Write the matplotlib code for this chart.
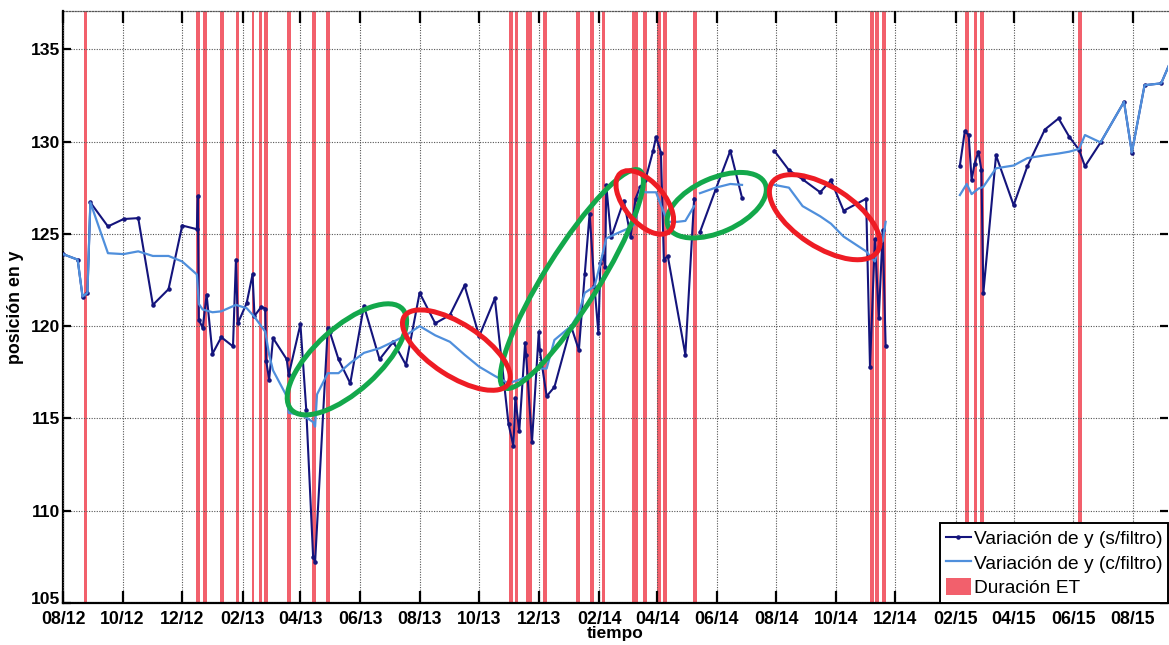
import numpy as np
import matplotlib
matplotlib.use("Agg")
import matplotlib.pyplot as plt
import matplotlib.dates as mdates
import matplotlib.transforms as mtransforms
from matplotlib.patches import Ellipse

plt.rcParams["font.family"] = ["Liberation Sans", "DejaVu Sans"]
plt.rcParams["font.weight"] = "bold"
plt.rcParams["axes.labelweight"] = "bold"

inicio = np.datetime64("2012-08-01")
fin = np.datetime64("2015-09-06")

# variación de y sin filtro (días desde el inicio, posición); nan = sin datos
dias_s = [0, 15, 20, 25, 28, 46, 62, 77, 92, 108, 122, 137, 138, 139, 143, 147,
          153, 162, 174, 177, 179, 188, 194, 196, 203, 207, 208, 211, 215, 229,
          231, 243, 249, 256, 258, 271, 273, 282, 294, 308, 324, 338, 351, 365,
          381, 396, 411, 426, 442, 456, 461, 463, 467, 473, 474, 480, 487, 488,
          495, 503, 520, 528, 534, 539, 544, 548, 550, 553, 555, 556, 561, 574,
          581, 586, 591, 596, 604, 607, 612, 615, 619, 637, 646, 649, 652, 668,
          683, 695, 710, 728, 743, 757, 775, 786, 799, 822, 826, 831, 835, 839,
          842, 880, 918, 923, 927, 930, 933, 937, 940, 942, 955, 973, 987, 1005,
          1019, 1030, 1040, 1046, 1062, 1086, 1094, 1107, 1124, 1135]
y_s = [123.9, 123.6, 121.6, 121.8, 126.7, 125.4, 125.8, 125.85, 121.15, 122.0,
       125.45, 125.25, 127.05, 120.35, 119.9, 121.7, 118.5, 119.4, 118.9, 123.6,
       120.15, 121.25, 122.8, 120.55, 121.05, 120.95, 118.1, 117.1, 119.35, 118.2,
       117.35, 120.1, 115.45, 107.5, 107.2, 119.9, 119.7, 118.2, 116.9, 121.1,
       118.2, 119.15, 117.9, 121.8, 120.15, 120.6, 122.2, 119.45, 121.5, 114.7,
       113.5, 116.1, 114.3, 119.1, 118.45, 113.7, 119.7, 118.7, 116.2, 116.7,
       120.0, 118.7, 122.8, 126.1, 122.15, 119.6, 123.4, 123.8, 123.2, 127.65,
       124.8, 126.8, 124.85, 126.9, 127.55, 127.9, 129.5, 130.25, 129.4, 123.6,
       123.8, 118.45, 126.9, np.nan, 125.1, 127.4, 129.5, 126.95, np.nan, 129.5,
       128.45, 127.95, 127.25, 127.9, 126.25, 126.9, 117.8, 124.7, 120.45, 125.2,
       118.9, np.nan, 128.7, 130.55, 130.35, 127.9, 128.8, 129.45, 128.45, 121.8,
       129.25, 126.55, 128.65, 130.65, 131.25, 130.25, 129.55, 128.65, 129.95,
       132.15, 129.4, 133.05, 133.15, 134.5]

# variación de y con filtro
dias_c = [0, 15, 20, 25, 28, 46, 62, 77, 92, 108, 122, 137, 139, 143, 153, 162,
          177, 188, 196, 207, 211, 215, 229, 231, 243, 249, 256, 258, 260, 271,
          282, 294, 308, 324, 338, 351, 365, 381, 396, 411, 426, 442, 456, 467,
          474, 487, 495, 503, 520, 528, 534, 544, 550, 556, 566, 581, 586, 591,
          596, 607, 612, 619, 629, 637, 646, 649, 652, 668, 683, 695, 710, 728,
          743, 757, 775, 786, 799, 822, 826, 831, 835, 839, 842, 880, 918, 925,
          930, 937, 940, 942, 955, 961, 973, 987, 1005, 1019, 1030, 1040, 1046,
          1062, 1086, 1094, 1107, 1124, 1135]
y_c = [123.9, 123.6, 121.6, 121.8, 126.7, 123.95, 123.9, 124.05, 123.8, 123.8,
       123.5, 122.8, 121.2, 120.9, 120.75, 120.8, 121.15, 120.97, 120.5, 119.7,
       118.45, 117.6, 116.2, 115.3, 115.2, 115.05, 114.8, 114.55, 116.3, 117.45,
       117.45, 118.0, 118.55, 118.8, 119.15, 119.5, 120.0, 119.5, 119.15, 118.45,
       117.8, 117.3, 116.9, 117.1, 117.25, 117.7, 117.7, 119.25, 120.0, 120.7,
       121.8, 122.15, 123.4, 124.75, 125.0, 125.35, 125.55, 127.4, 127.25, 127.25,
       126.55, 125.65, 125.65, 125.7, 126.5, np.nan, 127.2, 127.5, 127.7, 127.65,
       np.nan, 127.65, 127.5, 126.5, 125.95, 125.55, 124.85, 124.05, 123.8, 123.5,
       124.4, 124.6, 125.65, np.nan, 127.1, 127.7, 127.15, 127.45, 127.5, 127.55,
       128.55, 128.6, 128.7, 129.1, 129.25, 129.35, 129.45, 129.6, 130.35, 129.95,
       132.15, 129.4, 133.05, 133.15, 134.5]

# eventos ET: día de inicio y duración (días)
et_inicio = [21, 136, 143, 161, 177, 193, 201, 206, 229, 255, 269, 456, 463, 474,
             491, 525, 539, 552, 582, 594, 608, 614, 645, 826, 831, 838, 923, 932,
             939, 1039]
et_duracion = [4, 4, 4, 4, 3, 3, 3, 4, 4, 4, 4, 5, 3, 6, 4, 4, 4, 3, 7, 4, 4, 4,
               4, 4, 4, 4, 4, 3, 4, 4]

# tramos resaltados: día central, posición central, ancho y alto (pulgadas), giro
zonas_verdes = [(290.6, 118.2, 1.50, 0.64, 42),
                (520.8, 122.55, 2.56, 0.54, 58),
                (669.1, 126.55, 1.06, 0.54, 24)]
zonas_rojas = [(402.6, 118.7, 1.24, 0.52, -33),
               (595.5, 126.7, 0.76, 0.40, -50),
               (779.6, 125.9, 1.26, 0.60, -33)]

t0 = mdates.date2num(inicio)
t_s = t0 + np.array(dias_s, dtype=float)
t_c = t0 + np.array(dias_c, dtype=float)

fig = plt.figure(figsize=(11.69, 6.45), dpi=100)
ax = fig.add_axes([63 / 1169, 1 - 603 / 645, 1105 / 1169, 592 / 645])

rojo_et = "#f2606c"
for i, (ini, dur) in enumerate(zip(et_inicio, et_duracion)):
    ax.axvspan(t0 + ini, t0 + ini + dur, color=rojo_et, lw=0, zorder=1,
               label="Duración ET" if i == 0 else None)

l_s, = ax.plot(t_s, y_s, color="#14147c", lw=1.5, marker=".", ms=4.5,
               zorder=3, label="Variación de y (s/filtro)")
l_c, = ax.plot(t_c, y_c, color="#4f8fdc", lw=1.6, zorder=4,
               label="Variación de y (c/filtro)")

for zonas, col in ((zonas_verdes, "#13a84b"), (zonas_rojas, "#ee1c24")):
    for dia, pos, w, h, ang in zonas:
        tr = fig.dpi_scale_trans + mtransforms.ScaledTranslation(t0 + dia, pos, ax.transData)
        ax.add_patch(Ellipse((0, 0), w, h, angle=ang, fill=False, ec=col,
                             lw=3.6, transform=tr, zorder=5))

ax.set_xlim(t0, mdates.date2num(fin))
ax.set_ylim(105, 137.07)
ax.set_yticks([105, 110, 115, 120, 125, 130, 135])
ax.xaxis.set_major_locator(mdates.MonthLocator(bymonth=[2, 4, 6, 8, 10, 12]))
ax.xaxis.set_major_formatter(mdates.DateFormatter("%m/%y"))

ax.grid(True, linestyle=(0, (1, 1.3)), color="#555555", lw=0.8, zorder=2)
ax.set_axisbelow(False)
for s in ("left", "bottom"):
    ax.spines[s].set_linewidth(1.6)
ax.spines["top"].set_linestyle((0, (1, 1.3)))
ax.spines["top"].set_linewidth(0.9)
ax.spines["top"].set_color("#555555")
ax.spines["right"].set_visible(False)

ax.tick_params(axis="x", direction="in", length=8.5, width=1.6, top=True,
               pad=5.5, labelsize=12.8)
ax.tick_params(axis="y", direction="in", length=6, width=1.6, right=True,
               pad=2, labelsize=12.6)

# el 105 se sube un poco para que no choque con la primera fecha
lbl_105 = ax.yaxis.get_major_ticks()[0].label1
lbl_105.set_transform(lbl_105.get_transform()
                      + mtransforms.ScaledTranslation(0, 3.5 / 72, fig.dpi_scale_trans))

ax.set_xlabel("tiempo", fontsize=12.4, labelpad=-1.5)
ax.set_ylabel("posición en y", fontsize=12.8, labelpad=5)

leg = ax.legend(handles=[l_s, l_c, ax.patches[0]], loc="lower right",
                borderaxespad=0, fancybox=False, edgecolor="black", framealpha=1,
                prop={"size": 13.8, "weight": "normal"}, handlelength=1.3,
                handletextpad=0.15, labelspacing=0.28, borderpad=0.3,
                handleheight=1.0)
leg.get_frame().set_linewidth(1.4)

fig.savefig("out.png", dpi=100)
